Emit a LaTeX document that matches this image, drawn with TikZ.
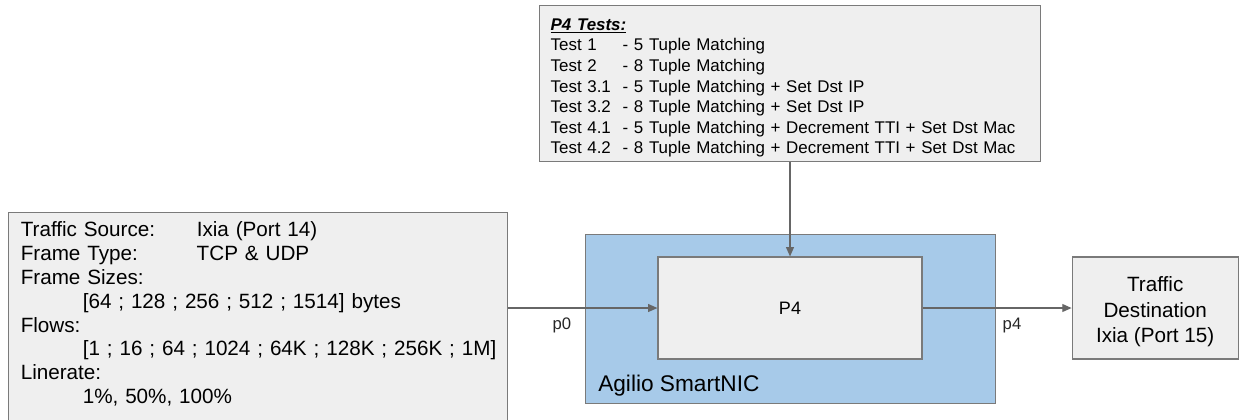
\documentclass[tikz,border=0pt]{standalone}
\usepackage{fontspec}
\setmainfont{Liberation Sans}
\usetikzlibrary{arrows.meta,positioning,backgrounds}
\definecolor{boxgray}{HTML}{EFEFEF}
\definecolor{linegray}{HTML}{7A7A7A}
\definecolor{nicblue}{HTML}{A7CAE9}
\frenchspacing

\begin{document}
\begin{tikzpicture}[
    node distance=70.5pt and 111.75pt,
    graybox/.style={rectangle, draw=linegray, line width=0.9pt, fill=boxgray, inner sep=0pt},
    nicbox/.style={rectangle, draw=linegray, line width=0.9pt, fill=nicblue, inner sep=0pt},
    portlabel/.style={font=\fontsize{12.5}{14}\selectfont, text=black!85},
    arrow/.style={-{Triangle[length=7pt, width=6pt]}, line width=0.8pt, draw=black!60}
]
\useasboundingbox (0pt,0pt) rectangle (932.25pt,-314.25pt);

% === SmartNIC with the P4 pipeline ===
\node[nicbox, minimum width=307.5pt, minimum height=126.75pt, anchor=north west] (nic) at (438.75pt,-175.5pt) {};
\node[graybox, minimum width=198pt, minimum height=76.5pt, font=\fontsize{13.5}{16}\selectfont] (p4) at (592.5pt,-231pt) {P4};
\node[anchor=base west, inner sep=0pt, font=\fontsize{17}{20}\selectfont] (nic-label) at ([xshift=9.75pt, yshift=9.75pt]nic.south west) {Agilio SmartNIC};

% === P4 test list (top) ===
\node[graybox, above=of p4, minimum width=375.75pt, minimum height=117pt, text width=359pt, align=left, font=\fontsize{12.7}{15.4}\selectfont] (tests) {%
\rule{0pt}{15pt}\underline{\textbf{\textit{P4 Tests:}}}\\
\makebox[54pt][l]{Test 1}- 5 Tuple Matching\\
\makebox[54pt][l]{Test 2}- 8 Tuple Matching\\
\makebox[54pt][l]{Test 3.1}- 5 Tuple Matching + Set Dst IP\\
\makebox[54pt][l]{Test 3.2}- 8 Tuple Matching + Set Dst IP\\
\makebox[54pt][l]{Test 4.1}- 5 Tuple Matching + Decrement TTI + Set Dst Mac\\
\makebox[54pt][l]{Test 4.2}- 8 Tuple Matching + Decrement TTI + Set Dst Mac};

% === Traffic source (left) ===
\node[graybox, anchor=north west, minimum width=374.25pt, text width=356pt, inner ysep=7pt, align=left, font=\fontsize{15.5}{17.85}\selectfont] (source) at (6pt,-159pt) {%
\makebox[132pt][l]{Traffic Source:}Ixia (Port 14)\\
\makebox[132pt][l]{Frame Type:}TCP \& UDP\\
Frame Sizes:\\
\hspace*{46.5pt}\mbox{[64 ; 128 ; 256 ; 512 ; 1514] bytes}\\
Flows:\\
\hspace*{46.5pt}\mbox{[1 ; 16 ; 64 ; 1024 ; 64K ; 128K ; 256K ; 1M]}\\
Linerate:\\
\hspace*{46.5pt}1\%, 50\%, 100\%\rule[-8pt]{0pt}{8pt}};

% === Traffic destination (right) ===
\node[graybox, right=of p4, minimum width=124.5pt, minimum height=76.5pt, align=center, font=\fontsize{15.5}{19}\selectfont] (dest) {\rule{0pt}{17pt}Traffic\\Destination\\Ixia (Port 15)};

% === Connectors ===
\draw[arrow] (source.east |- p4.west) -- node[portlabel, pos=0.36, yshift=-12.75pt] (p0-label) {p0} (p4.west);
\draw[arrow] (p4.east) -- node[portlabel, pos=0.6, yshift=-12.75pt] (p4-label) {p4} (dest.west);
\draw[arrow] (tests.south) -- (p4.north);

\end{tikzpicture}
\end{document}
